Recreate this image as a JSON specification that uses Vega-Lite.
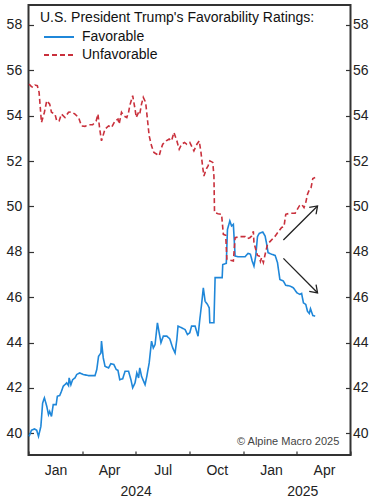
{
  "$schema": "https://vega.github.io/schema/vega-lite/v6.json",
  "width": 322,
  "height": 450,
  "autosize": {"type": "none"},
  "padding": {"left": 28.5, "top": 5, "right": 29.5, "bottom": 45},
  "background": "white",
  "config": {
    "view": {"stroke": "#333333", "strokeWidth": 2},
    "font": "Liberation Sans",
    "axis": {
      "grid": false,
      "domain": false,
      "title": null,
      "labelFont": "Liberation Sans",
      "labelFontSize": 14,
      "labelColor": "#222222",
      "tickColor": "#333333",
      "tickWidth": 1.2,
      "labelFlush": false,
      "labelOverlap": false
    }
  },
  "datasets": {
    "lines": [
      {"series": "Favorable", "date": "2024-01-02", "value": 39.86},
      {"series": "Favorable", "date": "2024-01-06", "value": 40.13},
      {"series": "Favorable", "date": "2024-01-11", "value": 40.19},
      {"series": "Favorable", "date": "2024-01-15", "value": 40.13},
      {"series": "Favorable", "date": "2024-01-18", "value": 39.86},
      {"series": "Favorable", "date": "2024-01-22", "value": 40.30},
      {"series": "Favorable", "date": "2024-01-25", "value": 41.33},
      {"series": "Favorable", "date": "2024-01-28", "value": 41.56},
      {"series": "Favorable", "date": "2024-02-01", "value": 41.19},
      {"series": "Favorable", "date": "2024-02-04", "value": 40.82},
      {"series": "Favorable", "date": "2024-02-06", "value": 40.96},
      {"series": "Favorable", "date": "2024-02-09", "value": 40.74},
      {"series": "Favorable", "date": "2024-02-12", "value": 41.26},
      {"series": "Favorable", "date": "2024-02-17", "value": 41.26},
      {"series": "Favorable", "date": "2024-02-19", "value": 41.63},
      {"series": "Favorable", "date": "2024-02-23", "value": 41.66},
      {"series": "Favorable", "date": "2024-02-26", "value": 41.85},
      {"series": "Favorable", "date": "2024-02-29", "value": 42.07},
      {"series": "Favorable", "date": "2024-03-06", "value": 42.22},
      {"series": "Favorable", "date": "2024-03-09", "value": 42.10},
      {"series": "Favorable", "date": "2024-03-10", "value": 42.44},
      {"series": "Favorable", "date": "2024-03-13", "value": 42.14},
      {"series": "Favorable", "date": "2024-03-16", "value": 42.36},
      {"series": "Favorable", "date": "2024-03-20", "value": 42.44},
      {"series": "Favorable", "date": "2024-03-23", "value": 42.59},
      {"series": "Favorable", "date": "2024-03-28", "value": 42.66},
      {"series": "Favorable", "date": "2024-04-03", "value": 42.59},
      {"series": "Favorable", "date": "2024-04-12", "value": 42.54},
      {"series": "Favorable", "date": "2024-04-23", "value": 42.54},
      {"series": "Favorable", "date": "2024-04-26", "value": 42.81},
      {"series": "Favorable", "date": "2024-04-29", "value": 43.39},
      {"series": "Favorable", "date": "2024-05-03", "value": 43.54},
      {"series": "Favorable", "date": "2024-05-04", "value": 44.06},
      {"series": "Favorable", "date": "2024-05-07", "value": 43.32},
      {"series": "Favorable", "date": "2024-05-10", "value": 42.95},
      {"series": "Favorable", "date": "2024-05-16", "value": 42.88},
      {"series": "Favorable", "date": "2024-05-20", "value": 43.07},
      {"series": "Favorable", "date": "2024-05-25", "value": 43.03},
      {"series": "Favorable", "date": "2024-05-29", "value": 42.81},
      {"series": "Favorable", "date": "2024-06-01", "value": 42.77},
      {"series": "Favorable", "date": "2024-06-04", "value": 42.36},
      {"series": "Favorable", "date": "2024-06-09", "value": 42.40},
      {"series": "Favorable", "date": "2024-06-13", "value": 42.73},
      {"series": "Favorable", "date": "2024-06-19", "value": 42.73},
      {"series": "Favorable", "date": "2024-06-23", "value": 42.36},
      {"series": "Favorable", "date": "2024-06-26", "value": 42.00},
      {"series": "Favorable", "date": "2024-06-30", "value": 42.22},
      {"series": "Favorable", "date": "2024-07-03", "value": 42.66},
      {"series": "Favorable", "date": "2024-07-06", "value": 42.44},
      {"series": "Favorable", "date": "2024-07-08", "value": 42.88},
      {"series": "Favorable", "date": "2024-07-11", "value": 42.51},
      {"series": "Favorable", "date": "2024-07-17", "value": 42.14},
      {"series": "Favorable", "date": "2024-07-20", "value": 42.51},
      {"series": "Favorable", "date": "2024-07-24", "value": 43.10},
      {"series": "Favorable", "date": "2024-07-28", "value": 44.06},
      {"series": "Favorable", "date": "2024-07-31", "value": 43.76},
      {"series": "Favorable", "date": "2024-08-03", "value": 43.91},
      {"series": "Favorable", "date": "2024-08-07", "value": 44.87},
      {"series": "Favorable", "date": "2024-08-10", "value": 44.43},
      {"series": "Favorable", "date": "2024-08-13", "value": 43.99},
      {"series": "Favorable", "date": "2024-08-17", "value": 44.28},
      {"series": "Favorable", "date": "2024-08-23", "value": 44.28},
      {"series": "Favorable", "date": "2024-08-28", "value": 44.16},
      {"series": "Favorable", "date": "2024-09-02", "value": 43.76},
      {"series": "Favorable", "date": "2024-09-06", "value": 43.54},
      {"series": "Favorable", "date": "2024-09-09", "value": 44.13},
      {"series": "Favorable", "date": "2024-09-11", "value": 44.72},
      {"series": "Favorable", "date": "2024-09-17", "value": 44.65},
      {"series": "Favorable", "date": "2024-09-23", "value": 44.57},
      {"series": "Favorable", "date": "2024-09-27", "value": 44.35},
      {"series": "Favorable", "date": "2024-10-01", "value": 44.43},
      {"series": "Favorable", "date": "2024-10-04", "value": 44.72},
      {"series": "Favorable", "date": "2024-10-10", "value": 44.72},
      {"series": "Favorable", "date": "2024-10-15", "value": 44.28},
      {"series": "Favorable", "date": "2024-10-18", "value": 45.01},
      {"series": "Favorable", "date": "2024-10-21", "value": 45.68},
      {"series": "Favorable", "date": "2024-10-24", "value": 46.41},
      {"series": "Favorable", "date": "2024-10-27", "value": 45.82},
      {"series": "Favorable", "date": "2024-10-31", "value": 45.68},
      {"series": "Favorable", "date": "2024-11-03", "value": 45.53},
      {"series": "Favorable", "date": "2024-11-04", "value": 44.87},
      {"series": "Favorable", "date": "2024-11-11", "value": 44.87},
      {"series": "Favorable", "date": "2024-11-13", "value": 46.86},
      {"series": "Favorable", "date": "2024-11-25", "value": 46.86},
      {"series": "Favorable", "date": "2024-11-26", "value": 47.44},
      {"series": "Favorable", "date": "2024-12-02", "value": 47.49},
      {"series": "Favorable", "date": "2024-12-04", "value": 48.99},
      {"series": "Favorable", "date": "2024-12-06", "value": 49.17},
      {"series": "Favorable", "date": "2024-12-08", "value": 49.36},
      {"series": "Favorable", "date": "2024-12-11", "value": 49.14},
      {"series": "Favorable", "date": "2024-12-14", "value": 49.21},
      {"series": "Favorable", "date": "2024-12-17", "value": 47.81},
      {"series": "Favorable", "date": "2024-12-22", "value": 47.78},
      {"series": "Favorable", "date": "2025-01-03", "value": 47.78},
      {"series": "Favorable", "date": "2025-01-08", "value": 47.93},
      {"series": "Favorable", "date": "2025-01-12", "value": 47.89},
      {"series": "Favorable", "date": "2025-01-15", "value": 47.59},
      {"series": "Favorable", "date": "2025-01-18", "value": 47.37},
      {"series": "Favorable", "date": "2025-01-21", "value": 47.81},
      {"series": "Favorable", "date": "2025-01-24", "value": 48.67},
      {"series": "Favorable", "date": "2025-01-27", "value": 48.81},
      {"series": "Favorable", "date": "2025-02-02", "value": 48.87},
      {"series": "Favorable", "date": "2025-02-06", "value": 48.69},
      {"series": "Favorable", "date": "2025-02-09", "value": 48.28},
      {"series": "Favorable", "date": "2025-02-11", "value": 47.96},
      {"series": "Favorable", "date": "2025-02-17", "value": 47.89},
      {"series": "Favorable", "date": "2025-02-23", "value": 47.84},
      {"series": "Favorable", "date": "2025-02-27", "value": 47.52},
      {"series": "Favorable", "date": "2025-03-03", "value": 46.78},
      {"series": "Favorable", "date": "2025-03-09", "value": 46.71},
      {"series": "Favorable", "date": "2025-03-13", "value": 46.52},
      {"series": "Favorable", "date": "2025-03-20", "value": 46.49},
      {"series": "Favorable", "date": "2025-03-26", "value": 46.41},
      {"series": "Favorable", "date": "2025-04-01", "value": 46.19},
      {"series": "Favorable", "date": "2025-04-06", "value": 46.12},
      {"series": "Favorable", "date": "2025-04-09", "value": 46.16},
      {"series": "Favorable", "date": "2025-04-12", "value": 45.75},
      {"series": "Favorable", "date": "2025-04-16", "value": 45.68},
      {"series": "Favorable", "date": "2025-04-19", "value": 45.37},
      {"series": "Favorable", "date": "2025-04-22", "value": 45.28},
      {"series": "Favorable", "date": "2025-04-24", "value": 45.49},
      {"series": "Favorable", "date": "2025-04-28", "value": 45.19},
      {"series": "Favorable", "date": "2025-05-02", "value": 45.16},
      {"series": "Unfavorable", "date": "2024-01-02", "value": 55.39},
      {"series": "Unfavorable", "date": "2024-01-06", "value": 55.28},
      {"series": "Unfavorable", "date": "2024-01-09", "value": 55.25},
      {"series": "Unfavorable", "date": "2024-01-12", "value": 55.35},
      {"series": "Unfavorable", "date": "2024-01-16", "value": 55.32},
      {"series": "Unfavorable", "date": "2024-01-19", "value": 55.03},
      {"series": "Unfavorable", "date": "2024-01-23", "value": 53.70},
      {"series": "Unfavorable", "date": "2024-01-28", "value": 54.15},
      {"series": "Unfavorable", "date": "2024-02-01", "value": 54.66},
      {"series": "Unfavorable", "date": "2024-02-06", "value": 54.51},
      {"series": "Unfavorable", "date": "2024-02-09", "value": 54.15},
      {"series": "Unfavorable", "date": "2024-02-15", "value": 54.07},
      {"series": "Unfavorable", "date": "2024-02-18", "value": 53.77},
      {"series": "Unfavorable", "date": "2024-02-22", "value": 53.77},
      {"series": "Unfavorable", "date": "2024-02-26", "value": 54.07},
      {"series": "Unfavorable", "date": "2024-03-03", "value": 53.92},
      {"series": "Unfavorable", "date": "2024-03-09", "value": 54.15},
      {"series": "Unfavorable", "date": "2024-03-14", "value": 54.17},
      {"series": "Unfavorable", "date": "2024-03-20", "value": 54.07},
      {"series": "Unfavorable", "date": "2024-03-26", "value": 53.92},
      {"series": "Unfavorable", "date": "2024-03-31", "value": 53.55},
      {"series": "Unfavorable", "date": "2024-04-06", "value": 53.53},
      {"series": "Unfavorable", "date": "2024-04-12", "value": 53.60},
      {"series": "Unfavorable", "date": "2024-04-19", "value": 53.60},
      {"series": "Unfavorable", "date": "2024-04-25", "value": 53.77},
      {"series": "Unfavorable", "date": "2024-04-28", "value": 54.07},
      {"series": "Unfavorable", "date": "2024-05-01", "value": 53.41},
      {"series": "Unfavorable", "date": "2024-05-04", "value": 52.89},
      {"series": "Unfavorable", "date": "2024-05-10", "value": 53.41},
      {"series": "Unfavorable", "date": "2024-05-16", "value": 53.55},
      {"series": "Unfavorable", "date": "2024-05-21", "value": 53.48},
      {"series": "Unfavorable", "date": "2024-05-27", "value": 53.77},
      {"series": "Unfavorable", "date": "2024-06-01", "value": 53.85},
      {"series": "Unfavorable", "date": "2024-06-03", "value": 53.63},
      {"series": "Unfavorable", "date": "2024-06-07", "value": 54.15},
      {"series": "Unfavorable", "date": "2024-06-11", "value": 53.99},
      {"series": "Unfavorable", "date": "2024-06-16", "value": 53.92},
      {"series": "Unfavorable", "date": "2024-06-19", "value": 54.15},
      {"series": "Unfavorable", "date": "2024-06-21", "value": 54.44},
      {"series": "Unfavorable", "date": "2024-06-26", "value": 54.88},
      {"series": "Unfavorable", "date": "2024-06-30", "value": 54.29},
      {"series": "Unfavorable", "date": "2024-07-02", "value": 53.92},
      {"series": "Unfavorable", "date": "2024-07-06", "value": 54.15},
      {"series": "Unfavorable", "date": "2024-07-08", "value": 54.07},
      {"series": "Unfavorable", "date": "2024-07-11", "value": 54.51},
      {"series": "Unfavorable", "date": "2024-07-14", "value": 54.81},
      {"series": "Unfavorable", "date": "2024-07-18", "value": 54.59},
      {"series": "Unfavorable", "date": "2024-07-21", "value": 53.85},
      {"series": "Unfavorable", "date": "2024-07-24", "value": 53.11},
      {"series": "Unfavorable", "date": "2024-07-28", "value": 52.67},
      {"series": "Unfavorable", "date": "2024-08-01", "value": 52.38},
      {"series": "Unfavorable", "date": "2024-08-06", "value": 52.30},
      {"series": "Unfavorable", "date": "2024-08-10", "value": 52.23},
      {"series": "Unfavorable", "date": "2024-08-13", "value": 52.52},
      {"series": "Unfavorable", "date": "2024-08-16", "value": 52.74},
      {"series": "Unfavorable", "date": "2024-08-22", "value": 52.89},
      {"series": "Unfavorable", "date": "2024-08-27", "value": 52.97},
      {"series": "Unfavorable", "date": "2024-08-31", "value": 52.89},
      {"series": "Unfavorable", "date": "2024-09-04", "value": 53.26},
      {"series": "Unfavorable", "date": "2024-09-09", "value": 52.89},
      {"series": "Unfavorable", "date": "2024-09-13", "value": 52.52},
      {"series": "Unfavorable", "date": "2024-09-17", "value": 52.74},
      {"series": "Unfavorable", "date": "2024-09-22", "value": 52.82},
      {"series": "Unfavorable", "date": "2024-09-26", "value": 52.74},
      {"series": "Unfavorable", "date": "2024-10-01", "value": 52.82},
      {"series": "Unfavorable", "date": "2024-10-08", "value": 52.45},
      {"series": "Unfavorable", "date": "2024-10-13", "value": 52.74},
      {"series": "Unfavorable", "date": "2024-10-17", "value": 52.89},
      {"series": "Unfavorable", "date": "2024-10-20", "value": 52.38},
      {"series": "Unfavorable", "date": "2024-10-23", "value": 51.72},
      {"series": "Unfavorable", "date": "2024-10-25", "value": 51.34},
      {"series": "Unfavorable", "date": "2024-10-29", "value": 51.64},
      {"series": "Unfavorable", "date": "2024-11-01", "value": 51.79},
      {"series": "Unfavorable", "date": "2024-11-04", "value": 52.01},
      {"series": "Unfavorable", "date": "2024-11-09", "value": 51.94},
      {"series": "Unfavorable", "date": "2024-11-11", "value": 51.34},
      {"series": "Unfavorable", "date": "2024-11-12", "value": 49.73},
      {"series": "Unfavorable", "date": "2024-11-18", "value": 49.68},
      {"series": "Unfavorable", "date": "2024-11-24", "value": 49.65},
      {"series": "Unfavorable", "date": "2024-11-27", "value": 48.77},
      {"series": "Unfavorable", "date": "2024-12-01", "value": 48.73},
      {"series": "Unfavorable", "date": "2024-12-03", "value": 47.67},
      {"series": "Unfavorable", "date": "2024-12-14", "value": 47.59},
      {"series": "Unfavorable", "date": "2024-12-17", "value": 48.62},
      {"series": "Unfavorable", "date": "2024-12-25", "value": 48.67},
      {"series": "Unfavorable", "date": "2025-01-03", "value": 48.67},
      {"series": "Unfavorable", "date": "2025-01-07", "value": 48.58},
      {"series": "Unfavorable", "date": "2025-01-11", "value": 48.62},
      {"series": "Unfavorable", "date": "2025-01-14", "value": 48.69},
      {"series": "Unfavorable", "date": "2025-01-17", "value": 48.90},
      {"series": "Unfavorable", "date": "2025-01-18", "value": 48.40},
      {"series": "Unfavorable", "date": "2025-01-21", "value": 48.11},
      {"series": "Unfavorable", "date": "2025-01-24", "value": 47.84},
      {"series": "Unfavorable", "date": "2025-01-27", "value": 47.81},
      {"series": "Unfavorable", "date": "2025-01-29", "value": 47.58},
      {"series": "Unfavorable", "date": "2025-01-31", "value": 47.74},
      {"series": "Unfavorable", "date": "2025-02-03", "value": 47.52},
      {"series": "Unfavorable", "date": "2025-02-06", "value": 47.89},
      {"series": "Unfavorable", "date": "2025-02-10", "value": 48.33},
      {"series": "Unfavorable", "date": "2025-02-15", "value": 48.47},
      {"series": "Unfavorable", "date": "2025-02-23", "value": 48.69},
      {"series": "Unfavorable", "date": "2025-02-28", "value": 48.87},
      {"series": "Unfavorable", "date": "2025-03-06", "value": 49.07},
      {"series": "Unfavorable", "date": "2025-03-10", "value": 49.11},
      {"series": "Unfavorable", "date": "2025-03-13", "value": 49.65},
      {"series": "Unfavorable", "date": "2025-03-20", "value": 49.70},
      {"series": "Unfavorable", "date": "2025-03-29", "value": 49.70},
      {"series": "Unfavorable", "date": "2025-04-01", "value": 49.84},
      {"series": "Unfavorable", "date": "2025-04-05", "value": 50.02},
      {"series": "Unfavorable", "date": "2025-04-09", "value": 50.09},
      {"series": "Unfavorable", "date": "2025-04-13", "value": 49.95},
      {"series": "Unfavorable", "date": "2025-04-16", "value": 50.17},
      {"series": "Unfavorable", "date": "2025-04-19", "value": 50.54},
      {"series": "Unfavorable", "date": "2025-04-22", "value": 50.73},
      {"series": "Unfavorable", "date": "2025-04-25", "value": 50.83},
      {"series": "Unfavorable", "date": "2025-04-28", "value": 51.23},
      {"series": "Unfavorable", "date": "2025-05-02", "value": 51.27}
    ],
    "arrows": [
      {"arrow": "up", "start": "2025-03-09", "from": 48.52, "end": "2025-05-06", "to": 50.02},
      {"arrow": "down", "start": "2025-03-09", "from": 47.71, "end": "2025-05-06", "to": 46.19}
    ],
    "note": [
      {"label": "© Alpine Macro 2025"}
    ]
  },
  "resolve": {"axis": {"x": "independent", "y": "independent"}},
  "layer": [
    {
      "data": {"name": "lines"},
      "mark": {"type": "line", "strokeWidth": 1.6},
      "encoding": {
        "x": {
          "field": "date",
          "type": "temporal",
          "scale": {
            "type": "utc",
            "domain": [
              {"year": 2024, "month": 1, "date": 1, "utc": true},
              {"year": 2025, "month": 7, "date": 1, "utc": true}
            ]
          },
          "axis": {
            "orient": "bottom",
            "values": [
              {"year": 2024, "month": 1, "date": 1, "utc": true},
              {"year": 2024, "month": 4, "date": 1, "utc": true},
              {"year": 2024, "month": 7, "date": 1, "utc": true},
              {"year": 2024, "month": 10, "date": 1, "utc": true},
              {"year": 2025, "month": 1, "date": 1, "utc": true},
              {"year": 2025, "month": 4, "date": 1, "utc": true},
              {"year": 2025, "month": 7, "date": 1, "utc": true}
            ],
            "tickSize": -4,
            "labelPadding": 12.5,
            "labelOffset": 27,
            "labelExpr": "utcFormat(datum.value, '%Y-%m') == '2025-07' ? '' : utcFormat(datum.value, '%b')"
          }
        },
        "y": {
          "field": "value",
          "type": "quantitative",
          "scale": {"domain": [39.04, 58.88], "nice": false, "zero": false},
          "axis": {
            "orient": "left",
            "values": [40, 42, 44, 46, 48, 50, 52, 54, 56, 58],
            "tickSize": -5,
            "labelPadding": 11.8
          }
        },
        "color": {
          "field": "series",
          "type": "nominal",
          "scale": {"domain": ["Favorable", "Unfavorable"], "range": ["#1f87d9", "#c9303c"]},
          "legend": {
            "orient": "none",
            "legendX": 11.5,
            "legendY": 6,
            "padding": 0,
            "title": "U.S. President Trump's Favorability Ratings:",
            "titleFont": "Liberation Sans",
            "titleFontSize": 14,
            "titleFontWeight": "normal",
            "titleColor": "#111111",
            "titleLimit": 400,
            "titlePadding": 5,
            "labelFont": "Liberation Sans",
            "labelFontSize": 14,
            "labelColor": "#111111",
            "symbolType": "M -0.5 0 L 4.5 0",
            "symbolSize": 144,
            "symbolStrokeWidth": 1.8,
            "labelOffset": 28,
            "rowPadding": 4
          }
        },
        "strokeDash": {
          "field": "series",
          "type": "nominal",
          "scale": {"domain": ["Favorable", "Unfavorable"], "range": [[1, 0], [5, 3]]},
          "legend": {
            "orient": "none",
            "legendX": 11.5,
            "legendY": 6,
            "padding": 0,
            "title": "U.S. President Trump's Favorability Ratings:",
            "titleFont": "Liberation Sans",
            "titleFontSize": 14,
            "titleFontWeight": "normal",
            "titleColor": "#111111",
            "titleLimit": 400,
            "titlePadding": 5,
            "labelFont": "Liberation Sans",
            "labelFontSize": 14,
            "labelColor": "#111111",
            "symbolType": "M -0.5 0 L 4.5 0",
            "symbolSize": 144,
            "symbolStrokeWidth": 1.8,
            "labelOffset": 28,
            "rowPadding": 4
          }
        }
      }
    },
    {
      "data": {"name": "note"},
      "mark": {
        "type": "text",
        "align": "right",
        "baseline": "alphabetic",
        "font": "Liberation Sans",
        "fontSize": 11,
        "color": "#444444"
      },
      "encoding": {
        "text": {"field": "label"},
        "x": {
          "datum": {"year": 2025, "month": 6, "date": 12, "utc": true},
          "type": "temporal",
          "scale": {"type": "utc"},
          "axis": {
            "orient": "bottom",
            "values": [
              {"year": 2024, "month": 7, "date": 1, "utc": true},
              {"year": 2025, "month": 4, "date": 10, "utc": true}
            ],
            "ticks": false,
            "tickSize": 0,
            "labelPadding": 29.5,
            "labelExpr": "utcFormat(datum.value, '%Y')"
          }
        },
        "y": {
          "datum": 39.47,
          "type": "quantitative",
          "axis": {
            "orient": "right",
            "values": [40, 42, 44, 46, 48, 50, 52, 54, 56, 58],
            "tickSize": -5,
            "labelPadding": 7
          }
        }
      }
    },
    {
      "data": {"name": "arrows"},
      "mark": {"type": "rule", "color": "#222222", "strokeWidth": 1.3},
      "encoding": {
        "x": {"field": "start", "type": "temporal", "scale": {"type": "utc"}, "axis": null},
        "x2": {"field": "end"},
        "y": {"field": "from", "type": "quantitative", "axis": null},
        "y2": {"field": "to"}
      }
    },
    {
      "data": {"name": "arrows"},
      "transform": [{"filter": "datum.arrow == 'up'"}],
      "mark": {"type": "point", "shape": "M -1 -0.7 L 0 0 L -1 0.7", "filled": false, "color": "#222222", "strokeWidth": 1.3, "size": 190, "angle": 315, "opacity": 1},
      "encoding": {
        "x": {"field": "end", "type": "temporal", "scale": {"type": "utc"}, "axis": null},
        "y": {"field": "to", "type": "quantitative", "axis": null}
      }
    },
    {
      "data": {"name": "arrows"},
      "transform": [{"filter": "datum.arrow == 'down'"}],
      "mark": {"type": "point", "shape": "M -1 -0.7 L 0 0 L -1 0.7", "filled": false, "color": "#222222", "strokeWidth": 1.3, "size": 190, "angle": 45, "opacity": 1},
      "encoding": {
        "x": {"field": "end", "type": "temporal", "scale": {"type": "utc"}, "axis": null},
        "y": {"field": "to", "type": "quantitative", "axis": null}
      }
    }
  ]
}
